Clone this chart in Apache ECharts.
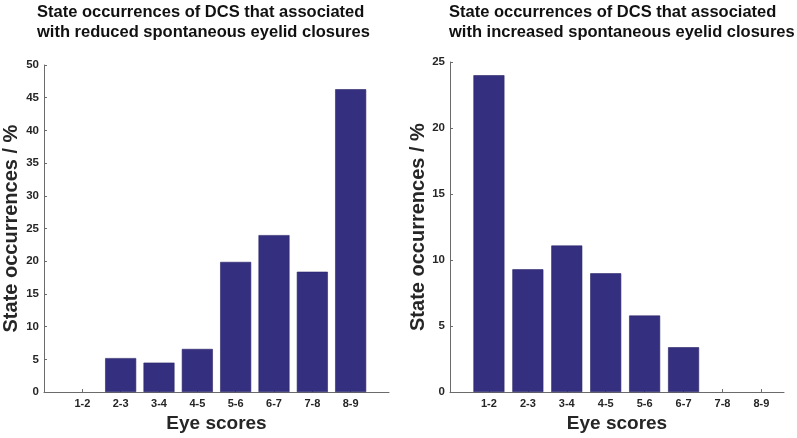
<!DOCTYPE html>
<html>
<head>
<meta charset="utf-8">
<script src="https://cdn.jsdelivr.net/npm/echarts@6/dist/echarts.min.js"></script>
<style>
  html, body { margin: 0; padding: 0; background: #fff; }
  #chart { width: 797px; height: 438px; }
</style>
</head>
<body>
<div id="chart"></div>
<script>
// eye score bins and the share of state occurrences (%)
var categories = ['1-2', '2-3', '3-4', '4-5', '5-6', '6-7', '7-8', '8-9'];
var reducedValues = [0, 5.2, 4.5, 6.6, 19.9, 24.0, 18.4, 46.3];
var increasedValues = [24.0, 9.3, 11.1, 9.0, 5.8, 3.4, 0, 0];
var titleReduced = 'State occurrences of DCS that associated\nwith reduced spontaneous eyelid closures';
var titleIncreased = 'State occurrences of DCS that associated\nwith increased spontaneous eyelid closures';

var FONT = 'Liberation Sans, Arial, sans-serif';
var BAR = '#352f80';
var AXIS = '#6b6b6b';
var TEXT = '#262626';

// bars sit at 1..8 on a value axis, like matlab's bar()
function toPoints(vals) {
    var out = [];
    for (var i = 0; i < vals.length; i++) {
        out.push([i + 1, vals[i] === 0 ? null : vals[i]]);
    }
    return out;
}
var positions = categories.map(function (c, i) { return i + 1; });

function xAxisFor(idx, max) {
    return {
        type: 'value', gridIndex: idx, min: 0, max: max, interval: 1,
        splitLine: { show: false },
        axisLine: { lineStyle: { color: AXIS, width: 1 } },
        axisTick: { inside: true, length: 3, customValues: positions, lineStyle: { color: AXIS } },
        axisLabel: {
            customValues: positions,
            formatter: function (v) { return categories[v - 1] || ''; },
            color: TEXT, fontFamily: FONT, fontWeight: 'bold', fontSize: 11, margin: 6
        },
        name: 'Eye scores', nameLocation: 'middle', nameGap: 21,
        nameTextStyle: { color: TEXT, fontFamily: FONT, fontWeight: 'bold', fontSize: 19, verticalAlign: 'top' }
    };
}
function yAxisFor(idx, max, gap) {
    return {
        type: 'value', gridIndex: idx, min: 0, max: max, interval: 5,
        splitLine: { show: false },
        axisLine: { show: true, lineStyle: { color: AXIS, width: 1 } },
        axisTick: { show: true, inside: true, length: 3, lineStyle: { color: AXIS } },
        axisLabel: { color: TEXT, fontFamily: FONT, fontWeight: 'bold', fontSize: 11.5, margin: 5 },
        name: 'State occurrences / %', nameLocation: 'middle', nameGap: gap,
        nameTextStyle: { color: TEXT, fontFamily: FONT, fontWeight: 'bold', fontSize: 20 }
    };
}
function barSeries(idx, vals) {
    return {
        type: 'bar', xAxisIndex: idx, yAxisIndex: idx,
        data: toPoints(vals), barWidth: 31,
        itemStyle: { color: BAR, borderColor: '#2a2566', borderWidth: 0.6 },
        silent: true
    };
}

var chart = echarts.init(document.getElementById('chart'), null, { renderer: 'canvas' });
chart.setOption({
    backgroundColor: '#fff',
    animation: false,
    title: [
        { text: titleReduced, left: 37, top: 2, padding: 0,
          textStyle: { fontFamily: FONT, fontWeight: 'bold', fontSize: 16.5, lineHeight: 20, color: '#111' } },
        { text: titleIncreased, left: 449, top: 2, padding: 0,
          textStyle: { fontFamily: FONT, fontWeight: 'bold', fontSize: 16.5, lineHeight: 20, color: '#111' } }
    ],
    grid: [
        { left: 39, right: 408, top: 65, bottom: 41 },
        { left: 450, right: 13, top: 62, bottom: 44 }
    ],
    xAxis: [xAxisFor(0, 9), xAxisFor(1, 8.58)],
    yAxis: [yAxisFor(0, 50, 23), yAxisFor(1, 25, 19)],
    series: [barSeries(0, reducedValues), barSeries(1, increasedValues)]
});
</script>
</body>
</html>
